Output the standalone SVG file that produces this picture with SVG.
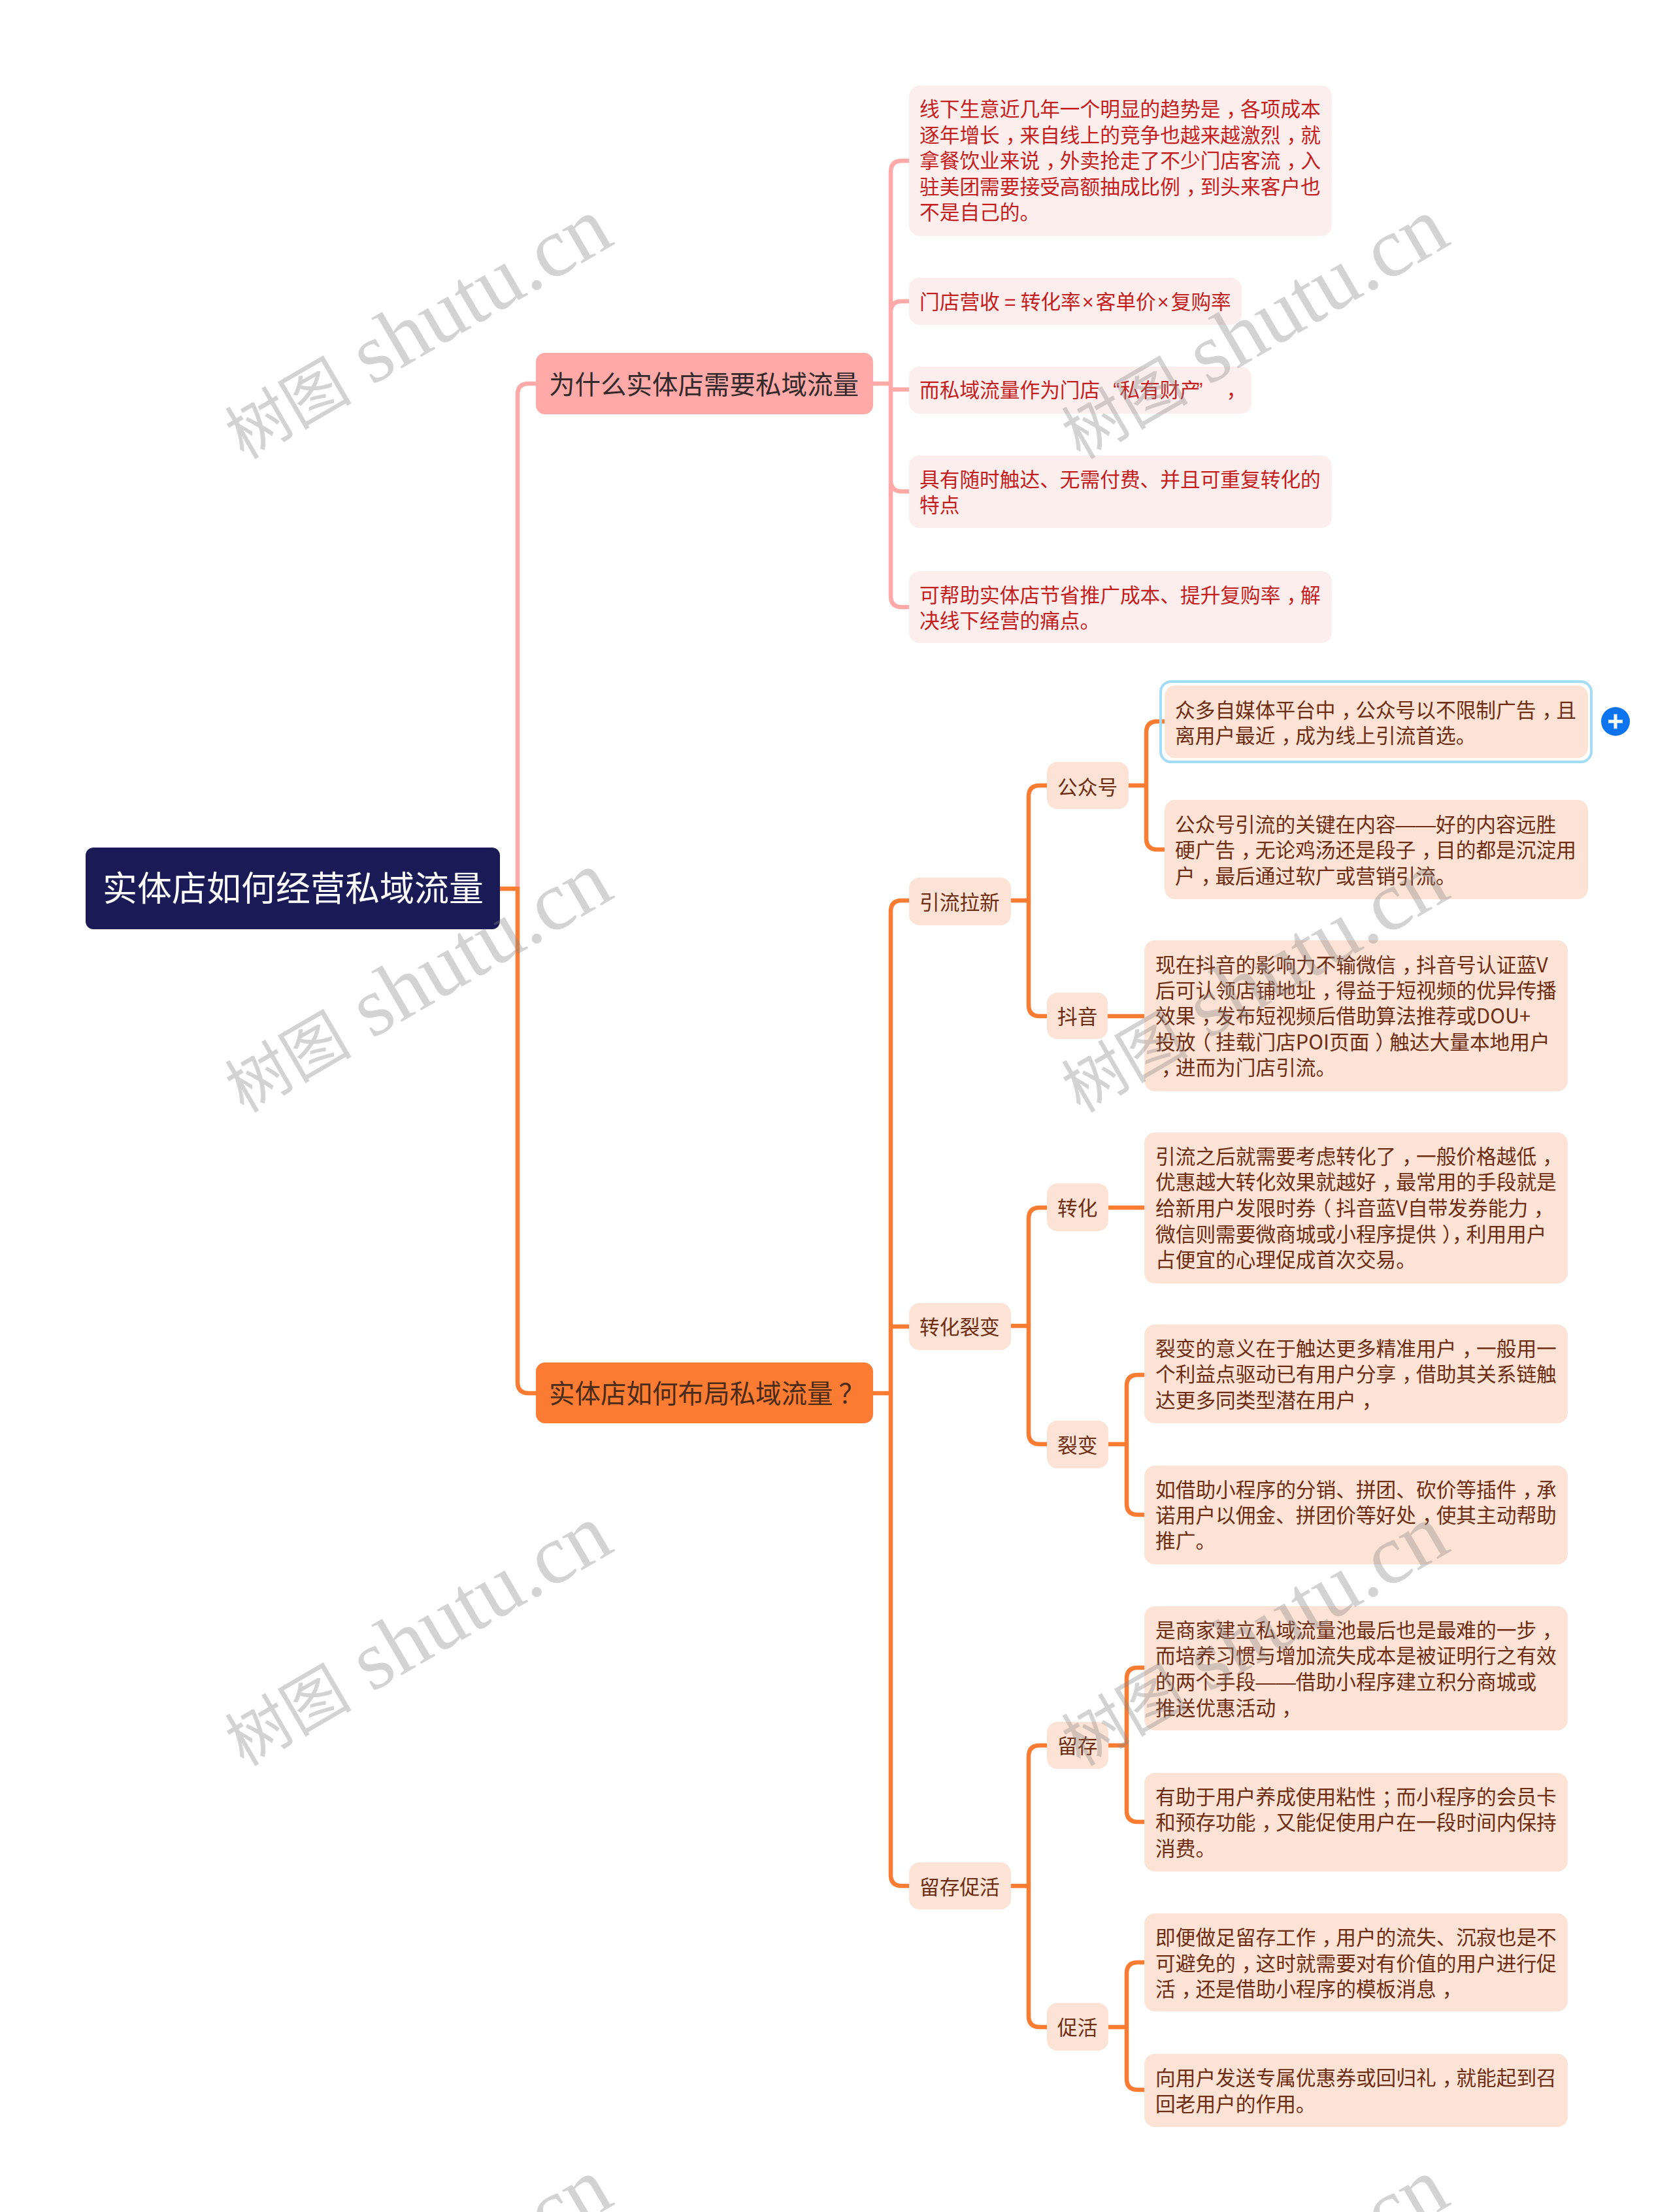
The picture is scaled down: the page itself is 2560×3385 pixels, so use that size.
<svg xmlns="http://www.w3.org/2000/svg" width="2560" height="3385" viewBox="0 0 2560 3385">
<style>
text{font-family:"Noto Sans CJK SC","Noto Sans",sans-serif;white-space:pre}
.c{fill:none;stroke-width:6.5}
.p{stroke:#ffaaa9}
.o{stroke:#f97c32}
.b1{fill:#fdeeee}
.b2{fill:#fde3d5}
.t1{font-size:30.7px;fill:#c41d1d}
.t2{font-size:30.7px;fill:#6e2c12}
.l1{font-size:39.5px;fill:#33292a}
.l2{font-size:39.5px;fill:#4a2a18}
.x{font-family:"Liberation Sans",sans-serif}
.wm{font-family:"Liberation Serif","Noto Sans CJK SC",serif;font-size:129px;fill:#888;fill-opacity:.37}
.wc{font-size:97px}
</style>
<defs>
<text id="w" class="wm" x="0" y="0" transform="rotate(-30.2)"><tspan class="wc">树图</tspan> shutu.cn</text>
</defs>
<rect width="2560" height="3385" fill="#fff"/>
<g id="connectors">
<path class="c p" d="M765 1360H792M820 587H809Q792 587 792 604V1360"/>
<path class="c o" d="M765 1360H792V2115Q792 2132 809 2132H820"/>
<path class="c p" d="M1336 587H1363M1391 246H1380Q1363 246 1363 263V912Q1363 929 1380 929H1391M1363 478Q1363 461 1380 461H1391M1363 596H1391M1363 735Q1363 752 1380 752H1391"/>
<path class="c o" d="M1336 2132H1363M1391 1378H1380Q1363 1378 1363 1395V2869Q1363 2886 1380 2886H1391M1363 2030H1391"/>
<path class="c o" d="M1547 1378H1574M1602 1202H1591Q1574 1202 1574 1219V1538Q1574 1555 1591 1555H1602"/>
<path class="c o" d="M1727 1202H1754M1782 1104H1771Q1754 1104 1754 1121V1283Q1754 1300 1771 1300H1782M1695 1555H1752"/>
<path class="c o" d="M1547 2029H1574M1602 1848H1591Q1574 1848 1574 1865V2193Q1574 2210 1591 2210H1602M1696 1848H1752"/>
<path class="c o" d="M1696 2210H1724M1752 2104H1741Q1724 2104 1724 2121V2301Q1724 2318 1741 2318H1752"/>
<path class="c o" d="M1547 2886H1574M1602 2671H1591Q1574 2671 1574 2688V3085Q1574 3102 1591 3102H1602"/>
<path class="c o" d="M1696 2671H1724M1752 2552H1741Q1724 2552 1724 2569V2771Q1724 2788 1741 2788H1752"/>
<path class="c o" d="M1696 3102H1724M1752 3003H1741Q1724 3003 1724 3020V3181Q1724 3198 1741 3198H1752"/>
</g>
<g id="root"><rect x="131" y="1297" width="634" height="125" rx="12" fill="#1a1a57"/><text x="157" y="1379" font-size="53" fill="#fff">实体店如何经营私域流量</text></g>
<g id="n1"><rect x="820" y="540" width="516" height="94" rx="14" fill="#ffaaa8"/><text class="l1" x="840" y="603">为什么实体店需要私域流量</text></g>
<g id="n2"><rect x="820" y="2085" width="516" height="93" rx="14" fill="#fb7c32"/><text class="l2" x="840" y="2147">实体店如何布局私域流量<tspan dx="9">？</tspan></text></g>

<g id="p1"><rect class="b1" x="1391" y="131" width="647" height="230" rx="16"/><text class="t1"><tspan x="1407" y="178">线下生意近几年一个明显的趋势是<tspan dx="9 -9">，各</tspan>项成本</tspan><tspan x="1407" y="218">逐年增长<tspan dx="9 -9">，来</tspan>自线上的竞争也越来越激烈<tspan dx="9 -9">，就</tspan></tspan><tspan x="1407" y="257">拿餐饮业来说<tspan dx="9 -9">，外</tspan>卖抢走了不少门店客流<tspan dx="9 -9">，入</tspan></tspan><tspan x="1407" y="297">驻美团需要接受高额抽成比例<tspan dx="9 -9">，到</tspan>头来客户也</tspan><tspan x="1407" y="336">不是自己的。</tspan></text></g>
<g id="p2"><rect class="b1" x="1391" y="425" width="509" height="72" rx="16"/><text class="t1" x="1407" y="473">门店营收<tspan class="x" dx="7">=</tspan><tspan dx="7">转</tspan>化率<tspan class="x" dx="2" letter-spacing="3">×</tspan>客单价<tspan class="x" dx="2" letter-spacing="3">×</tspan>复购率</text></g>
<g id="p3"><rect class="b1" x="1391" y="561" width="524" height="72" rx="16"/><text class="t1" x="1407" y="608">而私域流量作为门店<tspan class="x" dx="20">“</tspan>私有财产<tspan class="x" dx="-6">”</tspan><tspan dx="36">，</tspan></text></g>
<g id="p4"><rect class="b1" x="1391" y="697" width="647" height="111" rx="16"/><text class="t1"><tspan x="1407" y="745">具有随时触达、无需付费、并且可重复转化的</tspan><tspan x="1407" y="784">特点</tspan></text></g>
<g id="p5"><rect class="b1" x="1391" y="874" width="647" height="110" rx="16"/><text class="t1"><tspan x="1407" y="922">可帮助实体店节省推广成本、提升复购率<tspan dx="9 -9">，解</tspan></tspan><tspan x="1407" y="961">决线下经营的痛点。</tspan></text></g>

<g id="a1"><rect class="b2" x="1391" y="1343" width="156" height="73" rx="16"/><text class="t2" x="1407" y="1392">引流拉新</text></g>
<g id="a2"><rect class="b2" x="1391" y="1994" width="156" height="72" rx="16"/><text class="t2" x="1407" y="2042">转化裂变</text></g>
<g id="a3"><rect class="b2" x="1391" y="2850" width="156" height="72" rx="16"/><text class="t2" x="1407" y="2899">留存促活</text></g>

<g id="b1"><rect class="b2" x="1602" y="1166" width="125" height="72" rx="16"/><text class="t2" x="1618" y="1216">公众号</text></g>
<g id="b2"><rect class="b2" x="1602" y="1519" width="93" height="71" rx="16"/><text class="t2" x="1618" y="1567">抖音</text></g>
<g id="b3"><rect class="b2" x="1602" y="1811" width="94" height="73" rx="16"/><text class="t2" x="1618" y="1860">转化</text></g>
<g id="b4"><rect class="b2" x="1602" y="2174" width="94" height="73" rx="16"/><text class="t2" x="1618" y="2223">裂变</text></g>
<g id="b5"><rect class="b2" x="1602" y="2635" width="94" height="72" rx="16"/><text class="t2" x="1618" y="2683">留存</text></g>
<g id="b6"><rect class="b2" x="1602" y="3065" width="94" height="73" rx="16"/><text class="t2" x="1618" y="3114">促活</text></g>

<g id="d1"><rect x="1776" y="1043" width="659" height="123" rx="16" fill="none" stroke="#a3dcf6" stroke-width="4"/><rect class="b2" x="1782" y="1049" width="648" height="111" rx="16"/><text class="t2"><tspan x="1798" y="1098">众多自媒体平台中<tspan dx="9 -9">，公</tspan>众号以不限制广告<tspan dx="9 -9">，且</tspan></tspan><tspan x="1798" y="1137">离用户最近<tspan dx="9 -9">，成</tspan>为线上引流首选。</tspan></text><circle cx="2472" cy="1104" r="22" fill="#0d74ef"/><path d="M2461 1104H2483M2472 1093V1115" stroke="#fff" stroke-width="5" fill="none"/></g>
<g id="d2"><rect class="b2" x="1782" y="1224" width="648" height="152" rx="16"/><text class="t2"><tspan x="1798" y="1273">公众号引流的关键在内容<tspan class="x">——</tspan>好的内容远胜</tspan><tspan x="1798" y="1312">硬广告<tspan dx="9 -9">，无</tspan>论鸡汤还是段子<tspan dx="9 -9">，目</tspan>的都是沉淀用</tspan><tspan x="1798" y="1352">户<tspan dx="9 -9">，最</tspan>后通过软广或营销引流。</tspan></text></g>
<g id="d3"><rect class="b2" x="1751" y="1439" width="648" height="231" rx="16"/><text class="t2"><tspan x="1768" y="1488">现在抖音的影响力不输微信<tspan dx="9 -9">，抖</tspan>音号认证蓝V</tspan><tspan x="1768" y="1527">后可认领店铺地址<tspan dx="9 -9">，得</tspan>益于短视频的优异传播</tspan><tspan x="1768" y="1566">效果<tspan dx="9 -9">，发</tspan>布短视频后借助算法推荐或DOU+</tspan><tspan x="1768" y="1606">投放<tspan dx="-7 7">（挂</tspan>载门店POI页面<tspan dx="9 -9">）触</tspan>达大量本地用户</tspan><tspan x="1768" y="1645"><tspan dx="9 -9">，进</tspan>而为门店引流。</tspan></text></g>
<g id="d4"><rect class="b2" x="1751" y="1733" width="648" height="231" rx="16"/><text class="t2"><tspan x="1768" y="1781">引流之后就需要考虑转化了<tspan dx="9 -9">，一</tspan>般价格越低<tspan dx="9">，</tspan></tspan><tspan x="1768" y="1820">优惠越大转化效果就越好<tspan dx="9 -9">，最</tspan>常用的手段就是</tspan><tspan x="1768" y="1860">给新用户发限时券<tspan dx="-7 7">（抖</tspan>音蓝V自带发券能力<tspan dx="9">，</tspan></tspan><tspan x="1768" y="1900">微信则需要微商城或小程序提供<tspan dx="9 0 -9">），利</tspan>用用户</tspan><tspan x="1768" y="1939">占便宜的心理促成首次交易。</tspan></text></g>
<g id="d5"><rect class="b2" x="1751" y="2027" width="648" height="151" rx="16"/><text class="t2"><tspan x="1768" y="2075">裂变的意义在于触达更多精准用户<tspan dx="9 -9">，一</tspan>般用一</tspan><tspan x="1768" y="2114">个利益点驱动已有用户分享<tspan dx="9 -9">，借</tspan>助其关系链触</tspan><tspan x="1768" y="2154">达更多同类型潜在用户<tspan dx="9">，</tspan></tspan></text></g>
<g id="d6"><rect class="b2" x="1751" y="2243" width="648" height="151" rx="16"/><text class="t2"><tspan x="1768" y="2291">如借助小程序的分销、拼团、砍价等插件<tspan dx="9 -9">，承</tspan></tspan><tspan x="1768" y="2330">诺用户以佣金、拼团价等好处<tspan dx="9 -9">，使</tspan>其主动帮助</tspan><tspan x="1768" y="2369">推广。</tspan></text></g>
<g id="d7"><rect class="b2" x="1751" y="2458" width="648" height="190" rx="16"/><text class="t2"><tspan x="1768" y="2506">是商家建立私域流量池最后也是最难的一步<tspan dx="9">，</tspan></tspan><tspan x="1768" y="2545">而培养习惯与增加流失成本是被证明行之有效</tspan><tspan x="1768" y="2585">的两个手段<tspan class="x">——</tspan>借助小程序建立积分商城或</tspan><tspan x="1768" y="2625">推送优惠活动<tspan dx="9">，</tspan></tspan></text></g>
<g id="d8"><rect class="b2" x="1751" y="2713" width="648" height="151" rx="16"/><text class="t2"><tspan x="1768" y="2761">有助于用户养成使用粘性<tspan dx="9 -9">；而</tspan>小程序的会员卡</tspan><tspan x="1768" y="2800">和预存功能<tspan dx="9 -9">，又</tspan>能促使用户在一段时间内保持</tspan><tspan x="1768" y="2840">消费。</tspan></text></g>
<g id="d9"><rect class="b2" x="1751" y="2928" width="648" height="150" rx="16"/><text class="t2"><tspan x="1768" y="2976">即便做足留存工作<tspan dx="9 -9">，用</tspan>户的流失、沉寂也是不</tspan><tspan x="1768" y="3016">可避免的<tspan dx="9 -9">，这</tspan>时就需要对有价值的用户进行促</tspan><tspan x="1768" y="3055">活<tspan dx="9 -9">，还</tspan>是借助小程序的模板消息<tspan dx="9">，</tspan></tspan></text></g>
<g id="d10"><rect class="b2" x="1751" y="3143" width="648" height="112" rx="16"/><text class="t2"><tspan x="1768" y="3191">向用户发送专属优惠券或回归礼<tspan dx="9 -9">，就</tspan>能起到召</tspan><tspan x="1768" y="3231">回老用户的作用。</tspan></text></g>

<g id="watermark">
<use href="#w" transform="translate(373 704)"/>
<use href="#w" transform="translate(1653 704)"/>
<use href="#w" transform="translate(373 1704)"/>
<use href="#w" transform="translate(1653 1704)"/>
<use href="#w" transform="translate(373 2704)"/>
<use href="#w" transform="translate(1653 2704)"/>
<use href="#w" transform="translate(373 3704)"/>
<use href="#w" transform="translate(1653 3704)"/>
</g>
</svg>
